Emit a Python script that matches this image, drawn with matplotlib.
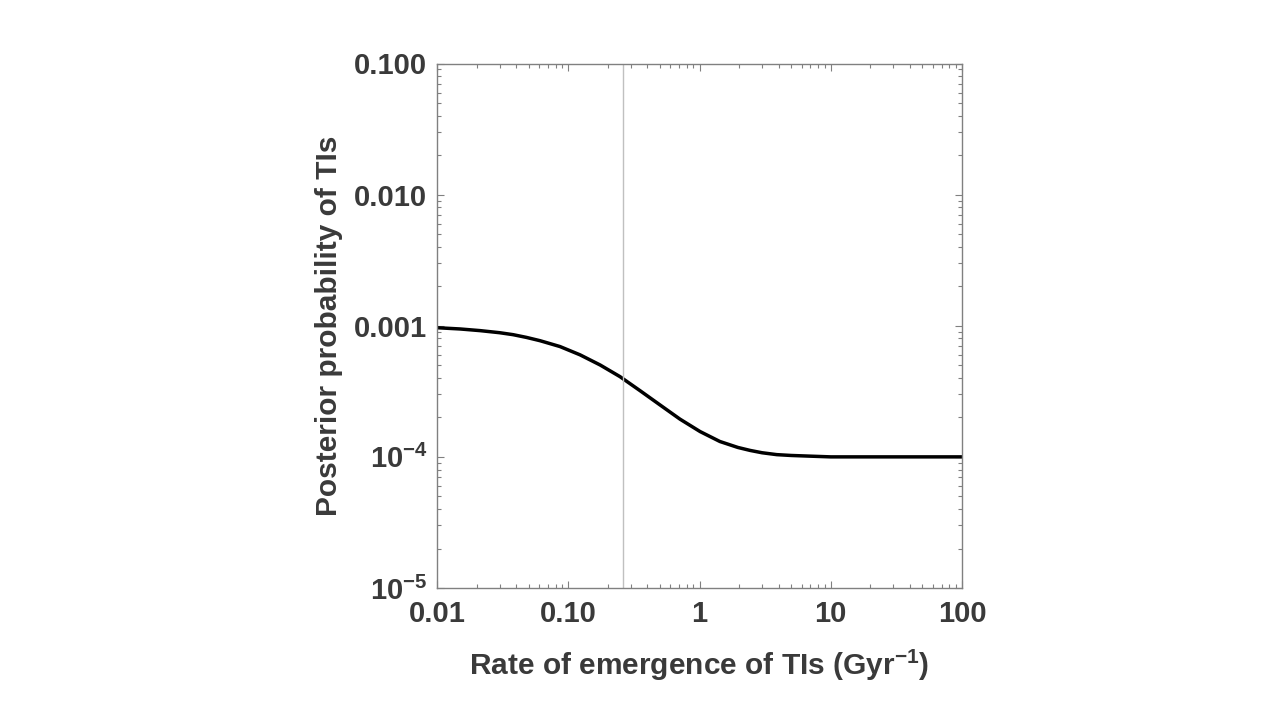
import matplotlib
matplotlib.use("Agg")
import matplotlib.pyplot as plt
from matplotlib.ticker import LogLocator, FixedLocator, FixedFormatter, NullFormatter

rate = [0.01, 0.015, 0.0213, 0.03, 0.038, 0.048, 0.061, 0.0865, 0.123, 0.175, 0.248,
        0.352, 0.50, 0.71, 1.01, 1.43, 1.96, 2.43, 3.0, 3.88, 5.0, 6.56, 10, 30, 100]
posterior = [9.66e-4, 9.45e-4, 9.18e-4, 8.85e-4, 8.55e-4, 8.15e-4, 7.69e-4, 6.94e-4,
             6.0e-4, 5.02e-4, 4.09e-4, 3.20e-4, 2.49e-4, 1.94e-4, 1.56e-4, 1.31e-4,
             1.18e-4, 1.12e-4, 1.075e-4, 1.04e-4, 1.025e-4, 1.015e-4, 1.0e-4, 1.0e-4, 1.0e-4]
marker_rate = 0.26

xticks = [0.01, 0.1, 1, 10, 100]
xticklabels = ["0.01", "0.10", "1", "10", "100"]
yticks = [1e-5, 1e-4, 1e-3, 1e-2, 1e-1]
yticklabels = [r"$\mathbf{10^{-5}}$", r"$\mathbf{10^{-4}}$", "0.001", "0.010", "0.100"]

plt.rcParams['font.family'] = ['Liberation Sans', 'DejaVu Sans']
plt.rcParams['mathtext.fontset'] = 'custom'
plt.rcParams['mathtext.rm'] = 'Liberation Sans:bold'
plt.rcParams['mathtext.bf'] = 'Liberation Sans:bold'
plt.rcParams['mathtext.it'] = 'Liberation Sans:bold'

txt = '#3a3a3a'
frame = '#808080'

fig = plt.figure(figsize=(12.78, 7.21), dpi=100)
ax = fig.add_axes([437/1278, 1 - 588/721, 525/1278, 524.5/721])

ax.plot(rate, posterior, color='black', lw=2.5, solid_capstyle='butt', solid_joinstyle='round')
ax.axvline(marker_rate, color='#c0c0c0', lw=1.0)

ax.set_xscale('log')
ax.set_yscale('log')
ax.set_xlim(0.01, 100)
ax.set_ylim(1e-5, 0.1)

ax.xaxis.set_major_locator(FixedLocator(xticks))
ax.xaxis.set_major_formatter(FixedFormatter(xticklabels))
ax.yaxis.set_major_locator(FixedLocator(yticks))
ax.yaxis.set_major_formatter(FixedFormatter(yticklabels))
ax.xaxis.set_minor_locator(LogLocator(base=10, subs=range(2, 10), numticks=20))
ax.yaxis.set_minor_locator(LogLocator(base=10, subs=range(2, 10), numticks=20))
ax.xaxis.set_minor_formatter(NullFormatter())
ax.yaxis.set_minor_formatter(NullFormatter())

ax.tick_params(which='both', direction='in', top=True, right=True, color=frame, width=0.8)
ax.tick_params(which='major', length=5)
ax.tick_params(which='minor', length=3)
ax.tick_params(axis='x', which='major', pad=9, labelsize=21, labelcolor=txt)
ax.tick_params(axis='y', which='major', pad=7, labelsize=21, labelcolor=txt)
for lab in ax.get_xticklabels() + ax.get_yticklabels():
    lab.set_fontweight('bold')

for s in ax.spines.values():
    s.set_color(frame)
    s.set_linewidth(1.0)

ax.set_xlabel(r"Rate of emergence of TIs (Gyr$^{\mathbf{-1}}$)", fontsize=21.5,
              fontweight='bold', color=txt, labelpad=14)
ax.set_ylabel("Posterior probability of TIs", fontsize=21.5, fontweight='bold',
              color=txt, labelpad=8)

fig.savefig("out.png", dpi=100)
